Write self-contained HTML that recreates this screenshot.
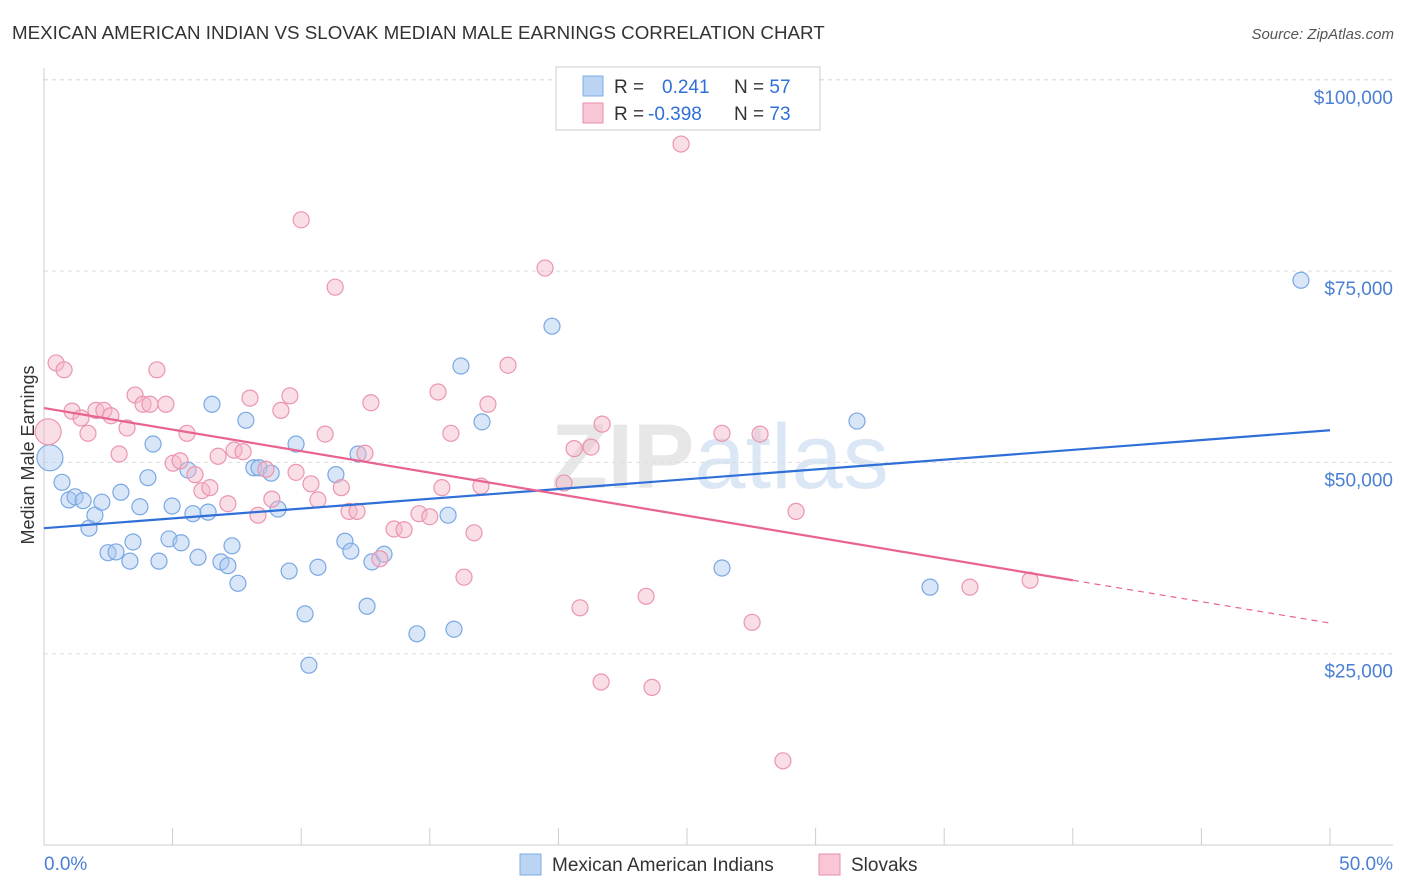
<!DOCTYPE html>
<html><head><meta charset="utf-8"><style>
body{margin:0;background:#fff;font-family:"Liberation Sans",sans-serif}
svg{display:block}
</style></head><body>
<svg id="c" width="1406" height="892" xmlns="http://www.w3.org/2000/svg">
<text x="12" y="39" font-size="18.75" fill="#333">MEXICAN AMERICAN INDIAN VS SLOVAK MEDIAN MALE EARNINGS CORRELATION CHART</text>
<text x="1394" y="39" font-size="15" fill="#555" font-style="italic" text-anchor="end">Source: ZipAtlas.com</text>
<text x="720" y="488" font-size="92" fill="#d8d8d8" text-anchor="middle" font-weight="bold" opacity="0.6">ZIP<tspan fill="#c5d8f0" font-weight="normal">atlas</tspan></text>
<text transform="translate(34,455) rotate(-90)" font-size="18" fill="#333" text-anchor="middle">Median Male Earnings</text>
<g id="grid"></g><g id="pts"></g><g id="lines"></g>
<g>
<rect x="556" y="67" width="264" height="63" fill="#fff" stroke="#ccc"/>
<rect x="583" y="76" width="20" height="20" fill="#bcd4f4" stroke="#7eaee6"/>
<rect x="583" y="103" width="20" height="20" fill="#f9c6d5" stroke="#ea8fab"/>
<text x="614" y="93" font-size="19" fill="#333">R = <tspan x="662" fill="#2f6fd8">0.241</tspan><tspan x="734">N = </tspan><tspan fill="#2f6fd8">57</tspan></text>
<text x="614" y="120" font-size="19" fill="#333">R = <tspan x="648" fill="#2f6fd8">-0.398</tspan><tspan x="734">N = </tspan><tspan fill="#2f6fd8">73</tspan></text>
</g>
<g>
<rect x="520" y="854" width="21" height="21" fill="#bcd4f4" stroke="#7eaee6"/>
<text x="552" y="871" font-size="19" fill="#333">Mexican American Indians</text>
<rect x="819" y="854" width="21" height="21" fill="#f9c6d5" stroke="#ea8fab"/>
<text x="851" y="871" font-size="19" fill="#333">Slovaks</text>
</g>
<text x="44" y="870" font-size="19" fill="#4a7fd4">0.0%</text>
<text x="1393" y="870" font-size="19" fill="#4a7fd4" text-anchor="end">50.0%</text>
</svg>
<script>
const yTicks=[25000,50000,75000,100000];
const yTickLabels=["$25,000","$50,000","$75,000","$100,000"];
const xTicks=[0,5,10,15,20,25,30,35,40,45,50];
const blueX=[0.23,0.70,0.97,1.21,1.52,1.75,1.98,2.25,2.49,2.80,2.99,3.34,3.46,3.73,4.04,4.24,4.47,4.86,4.98,5.33,5.60,5.79,5.99,6.38,6.53,6.88,7.15,7.31,7.54,7.85,8.16,8.36,8.83,9.10,9.53,9.80,10.15,10.30,10.65,11.35,11.70,11.93,12.21,12.56,12.75,13.22,14.50,15.71,15.94,16.21,17.03,19.75,26.36,31.61,34.45,48.87];
const blueY=[50.6,47.4,45.1,45.5,45.0,41.4,43.1,44.8,38.2,38.3,46.1,37.1,39.6,44.2,48.0,52.4,37.1,40.0,44.3,39.5,49.0,43.3,37.6,43.5,57.6,37.0,36.5,39.1,34.2,55.5,49.3,49.3,48.6,43.9,35.8,52.4,30.2,23.5,36.3,48.4,39.7,38.4,51.1,31.2,37.0,38.0,27.6,43.1,28.2,62.6,55.3,67.8,36.2,55.4,33.7,73.8];
const pinkX=[0.16,0.47,0.78,1.09,1.44,1.71,2.02,2.33,2.60,2.92,3.23,3.54,3.85,4.12,4.39,4.74,5.02,5.29,5.56,5.87,6.14,6.45,6.77,7.15,7.39,7.74,8.01,8.32,8.63,8.86,9.21,9.56,9.80,10.0,10.38,10.65,10.93,11.32,11.56,11.86,12.17,12.48,12.71,13.06,13.61,14.0,14.58,15.0,15.32,15.47,15.82,16.33,16.72,16.99,17.26,18.04,19.48,20.22,20.61,20.84,21.27,21.70,21.66,23.41,23.64,24.77,26.36,27.53,27.84,28.73,29.24,36.0,38.34];
const pinkY=[54.0,63.0,62.1,56.7,55.8,53.8,56.8,56.8,56.1,51.1,54.5,58.8,57.6,57.6,62.1,57.6,49.9,50.2,53.8,48.4,46.3,46.7,50.8,44.6,51.6,51.4,58.4,43.1,49.1,45.2,56.8,58.7,48.7,81.7,47.2,45.1,53.7,72.9,46.7,43.6,43.6,51.2,57.8,37.4,41.3,41.2,43.3,42.9,59.2,46.7,53.8,35.0,40.8,46.9,57.6,62.7,75.4,47.3,51.8,31.0,52.0,55.0,21.3,32.5,20.6,91.6,53.8,29.1,53.7,11.0,43.6,33.7,34.6];
const blueLine=[41.4,54.2];
const pinkLine=[57.1,34.6,29.0];
const X=v=>44+v*25.72, Y=k=>845-k*7.652;
const ns="http://www.w3.org/2000/svg";
function mk(p,t,a){const e=document.createElementNS(ns,t);for(const k in a)e.setAttribute(k,a[k]);document.getElementById(p).appendChild(e);return e;}
const g0=mk('grid','line',{x1:44,y1:Y(100),x2:1393,y2:Y(100),stroke:'#ddd','stroke-dasharray':'4,4'});


yTicks.forEach((t,i)=>{
 const l=mk('grid','line',{x1:44,y1:Y(t/1000),x2:1393,y2:Y(t/1000),stroke:'#ddd','stroke-dasharray':'4,4'});
 
 
 const tx=mk('grid','text',{x:1393,y:Y(t/1000)+24,'font-size':19,fill:'#4a7fd4','text-anchor':'end'});
 tx.textContent=yTickLabels[i];
 
 
});
const ax=mk('grid','line',{x1:44,y1:68,x2:44,y2:845,stroke:'#ccc'});


const bx=mk('grid','line',{x1:44,y1:845,x2:1393,y2:845,stroke:'#ccc'});


xTicks.forEach(t=>{const l=mk('grid','line',{x1:X(t),y1:828,x2:X(t),y2:845,stroke:'#ccc'});
 
 });
function pts(xs,ys,f,s,n){xs.forEach((x,i)=>{const c=mk('pts','circle',{cx:X(x),cy:Y(ys[i]),r:i==0?13:8,fill:f,'fill-opacity':0.45,stroke:s,'stroke-width':1.2});
 
 });}
pts(blueX,blueY,'#a9c8ef','#7aa8e4','point-mexican-american-indian');
pts(pinkX,pinkY,'#f4b6c8','#eb95b0','point-slovak');
const bl=mk('lines','line',{x1:X(0),y1:Y(blueLine[0]),x2:X(50),y2:Y(blueLine[1]),stroke:'#2f6fd8','stroke-width':2.2});


const pl=mk('lines','line',{x1:X(0),y1:Y(pinkLine[0]),x2:X(40),y2:Y(pinkLine[1]),stroke:'#e8638f','stroke-width':2.2});


const pd=mk('lines','line',{x1:X(40),y1:Y(pinkLine[1]),x2:X(50),y2:Y(pinkLine[2]),stroke:'#e8638f','stroke-width':1.2,'stroke-dasharray':'6,5'});


</script>
</body></html>
